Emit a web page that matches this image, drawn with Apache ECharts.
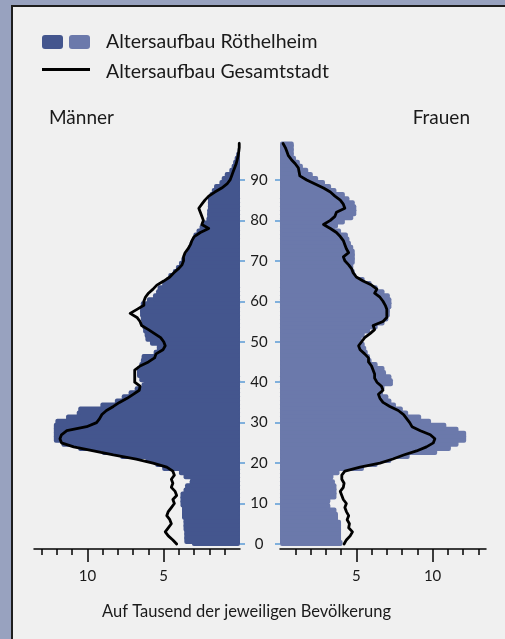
<!DOCTYPE html>
<html><head><meta charset="utf-8">
<script src="https://cdn.jsdelivr.net/npm/echarts@6/dist/echarts.min.js"></script>
<style>html,body{margin:0;padding:0;background:#98a2bf;}#c{width:505px;height:639px;}</style>
</head><body><div id="c"></div>
<script>
// Age categories 0..99
const ages = [];
for (let i = 0; i < 100; i++) ages.push(String(i));

// Per mille, Röthelheim men (ages 0..99)
const maleLocal = [3.15,3.65,3.65,3.65,3.7,3.7,3.7,3.8,3.8,3.8,
  3.9,3.9,3.9,3.7,3.6,3.3,3.25,3.7,4.0,5.1,
  5.55,6.2,7.85,9.05,10.6,11.7,12.2,12.2,12.2,12.2,
  12.1,11.4,10.7,10.6,9.15,8.2,7.75,7.3,6.9,6.45,
  6.3,6.6,6.75,6.75,6.6,6.5,6.45,5.66,5.45,5.45,
  5.9,6.2,6.25,6.35,6.4,6.45,6.5,6.55,6.55,6.5,
  6.1,5.7,5.5,5.4,5.1,4.85,4.7,4.4,4.2,4.0,
  3.85,3.7,3.5,3.4,3.3,3.15,3.05,2.85,2.65,2.45,
  2.2,2.15,2.15,2.1,2.1,2.1,2.0,1.85,1.7,1.35,
  1.2,1.0,0.7,0.55,0.45,0.35,0.25,0.15,0.1,0.05];
// Per mille, whole city men
const maleCity = [4.15,4.4,4.7,4.9,4.7,4.5,4.6,4.8,4.7,4.5,
  4.3,4.4,4.15,4.25,4.5,4.4,4.5,4.3,4.4,4.8,
  5.7,6.8,8.3,9.6,10.9,11.7,11.8,11.7,11.35,10.05,
  9.4,9.2,9.05,8.75,8.3,7.9,7.4,7.0,6.6,6.55,
  6.9,6.9,6.9,6.9,6.55,6.0,5.6,5.5,5.05,4.9,
  5.0,5.2,5.6,6.0,6.45,6.55,6.75,7.2,6.75,6.3,
  6.3,6.2,6.0,5.7,5.45,5.0,4.6,4.35,4.05,3.8,
  3.7,3.7,3.6,3.4,3.25,3.15,3.0,2.6,2.05,2.5,
  2.4,2.5,2.6,2.7,2.5,2.3,2.05,1.65,1.2,0.85,
  0.65,0.55,0.45,0.35,0.25,0.18,0.12,0.08,0.05,0.05];
// Per mille, Röthelheim women
const femaleLocal = [4.1,4.0,4.0,4.0,4.0,4.0,3.8,3.8,3.7,3.3,
  3.25,3.3,3.7,3.7,3.7,3.6,3.45,3.5,3.9,5.5,
  6.4,7.3,8.5,10.3,11.2,11.7,12.2,12.2,11.7,10.9,
  9.9,9.25,8.4,8.05,7.6,7.3,7.1,6.75,6.75,6.85,
  7.4,7.3,6.95,6.85,6.4,6.0,5.9,5.75,5.65,5.55,
  5.35,5.35,5.55,5.9,6.4,6.85,7.1,7.2,7.2,7.3,
  7.3,7.2,6.85,6.4,6.0,5.55,5.0,4.9,4.8,4.8,
  4.9,4.9,4.9,4.8,4.65,4.55,4.45,4.0,3.6,3.8,
  4.25,4.8,5.0,5.0,4.9,4.55,4.25,3.7,3.35,2.95,
  2.5,2.15,1.85,1.5,1.3,1.05,0.9,0.9,0.9,0.9];
// Per mille, whole city women
const femaleCity = [4.2,4.35,4.6,4.75,4.5,4.55,4.4,4.5,4.35,4.25,
  4.35,4.15,4.05,3.95,4.15,4.2,4.05,4.05,4.25,5.25,
  6.55,7.4,8.1,8.95,9.6,10.05,10.15,9.85,9.2,8.65,
  8.5,8.3,8.1,7.75,7.2,6.75,6.55,6.45,6.75,6.65,
  6.35,6.2,6.2,6.1,6.0,5.8,5.8,5.55,5.25,5.15,
  5.35,5.55,5.9,6.2,6.1,6.75,7.0,7.0,7.0,6.9,
  6.75,6.55,6.2,6.35,6.0,5.45,5.0,4.8,4.7,4.5,
  4.25,4.15,4.5,4.35,4.25,4.15,3.95,3.7,3.3,2.85,
  3.3,3.6,3.7,4.25,4.15,3.95,3.6,3.3,2.85,2.3,
  1.75,1.3,1.25,1.2,1.0,0.75,0.55,0.45,0.35,0.2];

const minorTicks = [1,2,3,4,6,7,8,9,11,12,13];
const majorTicks = [5,10];
const xMax = 13.5;

const FONT = 'Lato';
const DARK = '#44568e';
const LIGHT = '#6b79ab';
const TXT = '#1a1a1a';
const every10 = (i) => i % 10 === 0;

function minorAxis(grid, inverse) {
  return {
    gridIndex: grid, type: 'value', min: 0, max: xMax, inverse: inverse,
    position: 'bottom', offset: 3,
    axisLine: { show: true, lineStyle: { color: '#000', width: 1.5 } },
    axisTick: { show: true, customValues: minorTicks, length: 6, lineStyle: { color: '#000', width: 1.5 } },
    axisLabel: { show: false },
    splitLine: { show: false }
  };
}
function majorAxis(grid, inverse) {
  return {
    gridIndex: grid, type: 'value', min: 0, max: xMax, interval: 5, inverse: inverse,
    position: 'bottom', offset: 3,
    axisLine: { show: false },
    axisTick: { show: true, customValues: majorTicks, length: 13, lineStyle: { color: '#000', width: 1.5 } },
    axisLabel: { show: true, customValues: majorTicks, fontFamily: FONT, fontSize: 15, color: TXT, margin: 20 },
    splitLine: { show: true, showMinLine: false, showMaxLine: false,
      lineStyle: { color: '#000', width: 1.5, type: [7, 5] } }
  };
}

function txt(text, x, y, size, align) {
  return { type: 'text', x: x, y: y,
    style: { text: text, font: size + 'px ' + FONT, fill: TXT, align: align || 'left', verticalAlign: 'middle' } };
}

const chart = echarts.init(document.getElementById('c'), null, { renderer: 'canvas' });
chart.setOption({
  animation: false,
  backgroundColor: 'transparent',
  textStyle: { fontFamily: FONT },
  grid: [
    { left: 34, top: 141.5, width: 206, height: 404.5 },
    { left: 280, top: 141.5, width: 206, height: 404.5 }
  ],
  xAxis: [minorAxis(0, true), majorAxis(0, true), minorAxis(1, false), majorAxis(1, false)],
  yAxis: [
    { gridIndex: 0, type: 'category', data: ages, position: 'right',
      axisLine: { show: false },
      axisTick: { show: true, interval: every10, alignWithLabel: true, length: 5, lineStyle: { color: '#5b9bd5', width: 1.5 } },
      axisLabel: { show: false } },
    { gridIndex: 1, type: 'category', data: ages, position: 'left',
      axisLine: { show: false },
      axisTick: { show: true, interval: every10, alignWithLabel: true, length: 5, lineStyle: { color: '#5b9bd5', width: 1.5 } },
      axisLabel: { show: true, interval: every10, align: 'center', margin: 21, fontFamily: FONT, fontSize: 15, color: TXT } }
  ],
  series: [
    { name: 'Altersaufbau Röthelheim', type: 'bar', xAxisIndex: 0, yAxisIndex: 0, data: maleLocal,
      barWidth: 8, itemStyle: { color: DARK, borderRadius: 2 } },
    { name: 'Altersaufbau Gesamtstadt', type: 'line', xAxisIndex: 0, yAxisIndex: 0, data: maleCity,
      showSymbol: false, symbol: 'none', z: 5, lineStyle: { color: '#000', width: 2.8, cap: 'round', join: 'round' } },
    { name: 'Altersaufbau Röthelheim', type: 'bar', xAxisIndex: 2, yAxisIndex: 1, data: femaleLocal,
      barWidth: 8, itemStyle: { color: LIGHT, borderRadius: 2 } },
    { name: 'Altersaufbau Gesamtstadt', type: 'line', xAxisIndex: 2, yAxisIndex: 1, data: femaleCity,
      showSymbol: false, symbol: 'none', z: 5, lineStyle: { color: '#000', width: 2.8, cap: 'round', join: 'round' } }
  ],
  graphic: [
    { type: 'rect', z: -100, shape: { x: 12, y: 6, width: 520, height: 660 },
      style: { fill: '#f0f0f0', stroke: '#1e1e1e', lineWidth: 2 } },
    { type: 'rect', shape: { x: 42, y: 35, width: 21, height: 14, r: 3 }, style: { fill: DARK } },
    { type: 'rect', shape: { x: 69, y: 35, width: 21, height: 14, r: 3 }, style: { fill: LIGHT } },
    { type: 'line', shape: { x1: 42, y1: 69.5, x2: 90, y2: 69.5 }, style: { stroke: '#000', lineWidth: 3 } },
    txt('Altersaufbau Röthelheim', 106, 42, 19.5),
    txt('Altersaufbau Gesamtstadt', 106, 72, 19.5),
    txt('Männer', 49, 118, 19),
    txt('Frauen', 470, 118, 19, 'right'),
    txt('Auf Tausend der jeweiligen Bevölkerung', 246.5, 611.5, 16.5, 'center')
  ]
});
</script>
</body></html>
